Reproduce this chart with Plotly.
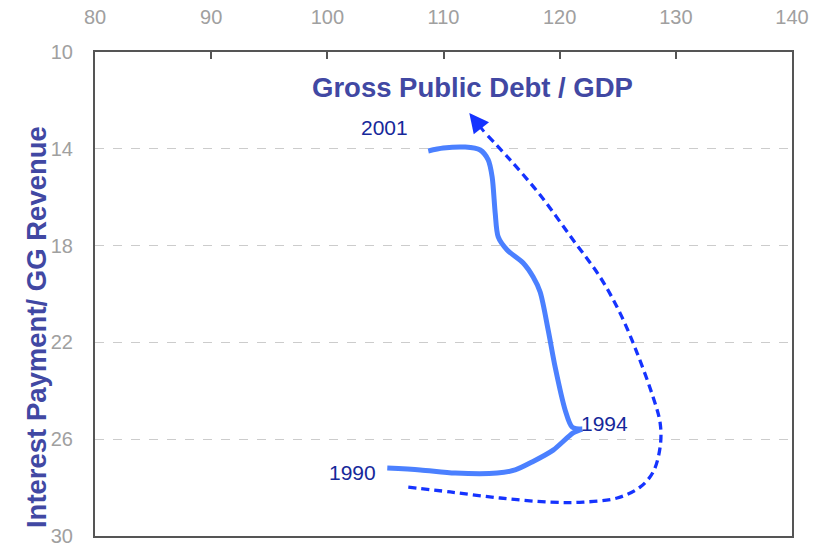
import plotly.graph_objects as go

# Path of debt/GDP (x) vs interest payment / GG revenue (y)
# Segment 1990 -> 1994
seg1_debt = [105.16, 108.0, 111.01, 114.62, 116.17, 117.63, 119.44, 121.16, 121.94]
seg1_interest = [27.19, 27.27, 27.40, 27.40, 27.27, 26.94, 26.45, 25.74, 25.58]
# Segment 1994 -> 2001
seg2_debt = [121.94, 121.08, 120.47, 119.61, 119.01, 118.32, 117.72, 116.86, 115.48,
             114.71, 114.45, 114.19, 113.85, 113.16, 111.87, 109.98, 108.69]
seg2_interest = [25.58, 25.50, 24.79, 23.02, 21.49, 19.92, 19.30, 18.72, 18.18,
                 17.64, 16.65, 15.17, 14.46, 14.05, 13.93, 13.97, 14.09]

# Dashed guide curve
guide_debt = [106.97, 110.58, 114.88, 119.18, 122.02, 124.95, 126.92, 128.04, 128.65,
              128.65, 128.04, 126.67, 125.2, 123.48, 121.16, 118.32, 115.74, 113.59]
guide_interest = [27.98, 28.18, 28.43, 28.60, 28.60, 28.43, 27.98, 27.36, 26.32,
                  25.33, 24.26, 22.44, 20.79, 19.30, 17.77, 15.91, 14.46, 13.35]
arrow_tip = (112.22, 12.52)

year_labels = ["2001", "1994", "1990"]
year_x = [104.9, 123.9, 102.2]
year_y = [13.14, 25.37, 27.36]

x_ticks = [80, 90, 100, 110, 120, 130, 140]
y_ticks = [10, 14, 18, 22, 26, 30]

fig = go.Figure()
fig.add_trace(go.Scatter(x=guide_debt, y=guide_interest, mode="lines",
                         line=dict(color="#1533ff", width=3.3, dash="8px,5px", shape="spline"),
                         hoverinfo="skip"))
for xs, ys in ((seg1_debt, seg1_interest), (seg2_debt, seg2_interest)):
    fig.add_trace(go.Scatter(x=xs, y=ys, mode="lines",
                             line=dict(color="#4b80ff", width=5, shape="spline", smoothing=0.8),
                             hoverinfo="skip"))

fig.add_annotation(x=arrow_tip[0], y=arrow_tip[1], ax=guide_debt[-1], ay=guide_interest[-1],
                   axref="x", ayref="y", xref="x", yref="y", text="", showarrow=True,
                   arrowhead=2, arrowsize=1.3, arrowwidth=3, arrowcolor="#1533ff")

for t, xx, yy in zip(year_labels, year_x, year_y):
    fig.add_annotation(x=xx, y=yy, text=t, showarrow=False, xanchor="center", yanchor="middle",
                       font=dict(family="Liberation Sans, Arial", size=21, color="#16289a"))

fig.add_annotation(x=112.5, y=11.45, text="<b>Gross Public Debt / GDP</b>", showarrow=False,
                   xanchor="center", yanchor="middle",
                   font=dict(family="Liberation Sans, Arial", size=27.5, color="#4148a3"))

fig.add_annotation(xref="paper", yref="paper", x=-0.083, y=0.432,
                   text="<b>Interest Payment/ GG Revenue</b>", textangle=-90, showarrow=False,
                   xanchor="center", yanchor="middle",
                   font=dict(family="Liberation Sans, Arial", size=27.5, color="#4148a3"))

fig.update_layout(
    width=821, height=544,
    margin=dict(l=95, r=29, t=52, b=8, autoexpand=False),
    plot_bgcolor="white", paper_bgcolor="white",
    showlegend=False,
    xaxis=dict(side="top", range=[80, 140], tickvals=x_ticks, ticks="inside", ticklen=7,
               tickwidth=1.5, tickcolor="#555", showline=True, linecolor="#555", linewidth=2,
               mirror=True, showgrid=False, zeroline=False, ticklabelstandoff=18,
               ticklabeloverflow="allow", automargin=False,
               tickfont=dict(family="Liberation Sans, Arial", size=20, color="#a0a0a0")),
    yaxis=dict(range=[30, 10], tickvals=y_ticks, ticks="", showline=True, linecolor="#555",
               linewidth=2, mirror=True, showgrid=True, gridcolor="#cccccc", griddash="dash",
               gridwidth=1, zeroline=False, ticklabelstandoff=16,
               ticklabeloverflow="allow", automargin=False,
               tickfont=dict(family="Liberation Sans, Arial", size=20, color="#a0a0a0")),
)

fig.write_html("out.html")
